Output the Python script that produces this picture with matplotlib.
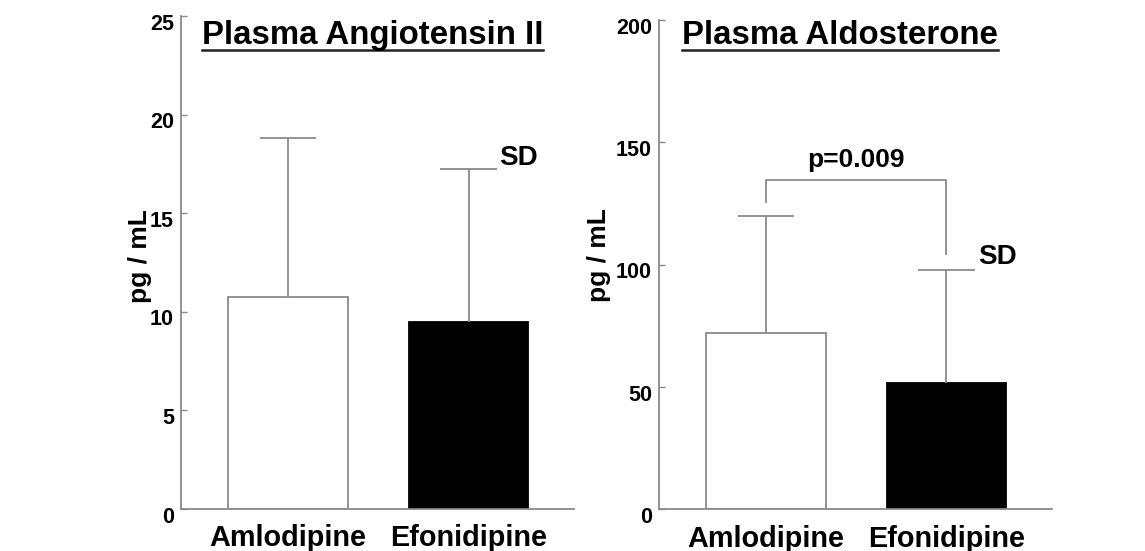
import matplotlib
matplotlib.use('Agg')
import matplotlib.pyplot as plt
from matplotlib.lines import Line2D
from matplotlib.transforms import ScaledTranslation

plt.rcParams['font.family'] = ['Liberation Sans', 'DejaVu Sans']
plt.rcParams['font.weight'] = 'bold'

# data
drugs = ['Amlodipine', 'Efonidipine']
ang_mean = [10.77, 9.47]
ang_sd = [8.04, 7.79]
ald_mean = [71.9, 51.5]
ald_sd = [48.1, 46.3]
ang_ticks = [0, 5, 10, 15, 20, 25]
ald_ticks = [0, 50, 100, 150, 200]
p_text = 'p=0.009'

GRAY = '#8a8a8a'
LW = 1.3

fig = plt.figure(figsize=(11.45, 5.51), dpi=100)
ax1 = fig.add_axes([0.1581, 0.0762, 0.3432, 0.8948])
ax2 = fig.add_axes([0.5755, 0.0757, 0.3432, 0.8880])


def draw_panel(ax, means, sds, ticks, ylab_x, ylab_y):
    x = list(range(len(means)))
    ax.bar(x, means, width=0.66, color=['white', 'black'],
           edgecolor=[GRAY, 'black'], linewidth=LW, zorder=2)
    # upper SD only
    tops = [m + s for m, s in zip(means, sds)]
    ax.vlines(x, means, tops, color=GRAY, lw=LW, zorder=3)
    ax.hlines(tops, [i - 0.157 for i in x], [i + 0.157 for i in x],
              color=GRAY, lw=LW, zorder=3)
    ax.set_xlim(-0.593, 1.584)
    ax.set_ylim(ticks[0], ticks[-1])
    ax.set_yticks(ticks)
    ax.set_xticks(x)
    ax.set_xticklabels(drugs, fontsize=20.8, fontweight='bold')
    ax.tick_params(axis='x', length=0, pad=11)
    ax.tick_params(axis='y', direction='in', length=4, width=1, color=GRAY,
                   labelsize=15.5, pad=5)
    for lab in ax.get_yticklabels():
        lab.set_fontweight('bold')
        lab.set_transform(lab.get_transform() +
                          ScaledTranslation(0, -4 / 72, fig.dpi_scale_trans))
    for s in ['top', 'right']:
        ax.spines[s].set_visible(False)
    for s in ['left', 'bottom']:
        ax.spines[s].set_color(GRAY)
        ax.spines[s].set_linewidth(LW)
    ax.text(ylab_x, ylab_y, 'pg / mL', transform=ax.transAxes, rotation=90,
            ha='center', va='center', fontsize=19, fontweight='bold')


draw_panel(ax1, ang_mean, ang_sd, ang_ticks, -0.1056, 0.513)
draw_panel(ax2, ald_mean, ald_sd, ald_ticks, -0.1514, 0.519)

# SD labels
ax1.text(1.171, 17.44, 'SD', ha='left', va='baseline', fontsize=20, fontweight='bold')
ax2.text(1.177, 100.2, 'SD', ha='left', va='baseline', fontsize=20, fontweight='bold')

# significance bracket
top = 134.4
ax2.plot([0, 0, 1, 1], [125.7, top, top, 104.3], color=GRAY, lw=LW, zorder=3)
ax2.text(0.5, 140.0, p_text, ha='center', va='baseline', fontsize=19, fontweight='bold')

# underlined titles
titles = [(0.1762, 'Plasma Angiotensin II'), (0.5954, 'Plasma Aldosterone')]
base_y = 1 - 44.3 / 551
line_y = 1 - 49.5 / 551
renderer = fig.canvas.get_renderer()
for tx, label in titles:
    t = fig.text(tx, base_y, label, ha='left', va='baseline', fontsize=23.8, fontweight='bold')
    bb = t.get_window_extent(renderer).transformed(fig.transFigure.inverted())
    fig.add_artist(Line2D([bb.x0, bb.x1], [line_y, line_y], color='#222222', lw=1.8,
                          transform=fig.transFigure))

fig.savefig('out.png', dpi=100)
